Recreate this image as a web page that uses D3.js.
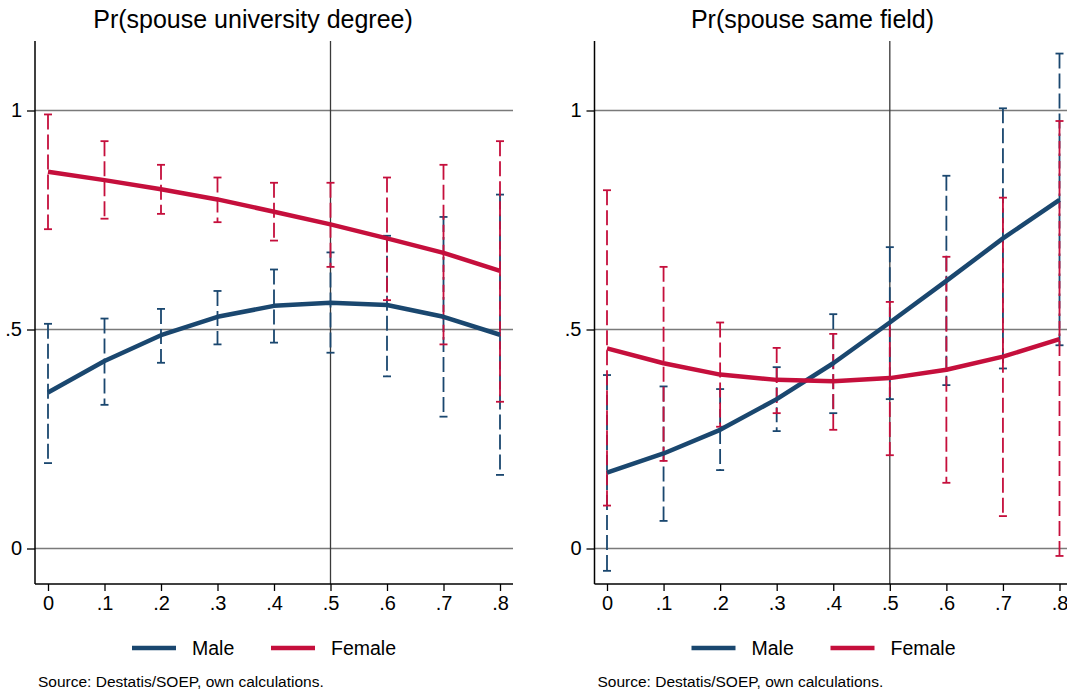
<!DOCTYPE html>
<html>
<head>
<meta charset="utf-8">
<script src="https://cdn.jsdelivr.net/npm/d3@7"></script>
<style>
  body { margin: 0; background: #fff; }
  svg { display: block; font-family: "Liberation Sans", Arial, sans-serif; }
</style>
</head>
<body>
<svg id="chart" width="1067" height="692"></svg>
<script>
// share of ... on x axis
const xVals = [0, 0.1, 0.2, 0.3, 0.4, 0.5, 0.6, 0.7, 0.8];
const xTickLabels = ["0", ".1", ".2", ".3", ".4", ".5", ".6", ".7", ".8"];
const yTickVals = [0, 0.5, 1];
const yTickLabels = ["0", ".5", "1"];
const panelTitles = ["Pr(spouse university degree)", "Pr(spouse same field)"];
const seriesNames = ["Male", "Female"];

// Panel 1: university degree
const degMale   = [0.356, 0.428, 0.487, 0.529, 0.554, 0.561, 0.556, 0.529, 0.488];
const degMaleLo = [0.195, 0.328, 0.424, 0.466, 0.470, 0.447, 0.393, 0.301, 0.168];
const degMaleHi = [0.513, 0.525, 0.547, 0.588, 0.637, 0.676, 0.714, 0.757, 0.808];
const degFem    = [0.860, 0.841, 0.820, 0.797, 0.769, 0.740, 0.708, 0.675, 0.634];
const degFemLo  = [0.729, 0.753, 0.764, 0.745, 0.703, 0.643, 0.567, 0.466, 0.335];
const degFemHi  = [0.991, 0.930, 0.876, 0.847, 0.835, 0.835, 0.847, 0.876, 0.930];

// Panel 2: same field
const fldMale   = [0.173, 0.217, 0.271, 0.341, 0.423, 0.516, 0.611, 0.708, 0.796];
const fldMaleLo = [-0.051, 0.063, 0.179, 0.268, 0.309, 0.341, 0.373, 0.411, 0.464];
const fldMaleHi = [0.396, 0.370, 0.364, 0.414, 0.535, 0.688, 0.851, 1.005, 1.130];
const fldFem    = [0.457, 0.423, 0.397, 0.385, 0.382, 0.389, 0.408, 0.438, 0.478];
const fldFemLo  = [0.098, 0.200, 0.278, 0.309, 0.271, 0.213, 0.150, 0.074, -0.017];
const fldFemHi  = [0.818, 0.643, 0.516, 0.458, 0.490, 0.563, 0.666, 0.801, 0.976];

const colMale = "#1a476f";
const colFem = "#c50f3c";

const panels = [
  { left: 35, right: 513, x0: 48, x8: 500,
    series: [
      { name: "Male", col: colMale, y: degMale, lo: degMaleLo, hi: degMaleHi },
      { name: "Female", col: colFem, y: degFem, lo: degFemLo, hi: degFemHi }
    ] },
  { left: 594.5, right: 1067, x0: 607, x8: 1059.5,
    series: [
      { name: "Male", col: colMale, y: fldMale, lo: fldMaleLo, hi: fldMaleHi },
      { name: "Female", col: colFem, y: fldFem, lo: fldFemLo, hi: fldFemHi }
    ] }
];

const plotTop = 41, plotBottom = 584;
const svg = d3.select("#chart");

const y = d3.scaleLinear().domain([0, 1]).range([548.5, 110.5]);

panels.forEach((p, pi) => {
  const x = d3.scaleLinear().domain([0, 0.8]).range([p.x0, p.x8]);
  const g = svg.append("g");

  // title
  g.append("text")
    .attr("x", p.left + 218)
    .attr("y", 28)
    .attr("text-anchor", "middle")
    .style("font-size", "25px")
    .text(panelTitles[pi]);

  // horizontal grid lines
  g.selectAll(".grid")
    .data(yTickVals)
    .enter().append("line")
    .attr("x1", p.left).attr("x2", p.right)
    .attr("y1", d => y(d)).attr("y2", d => y(d))
    .attr("stroke", "#7a7a7a")
    .attr("stroke-width", 1.5);

  // vertical reference line at .5
  g.append("line")
    .attr("x1", x(0.5)).attr("x2", x(0.5))
    .attr("y1", plotTop).attr("y2", plotBottom)
    .attr("stroke", "#3a3a3a")
    .attr("stroke-width", 1.3);

  // error bars
  p.series.forEach(s => {
    const bars = g.append("g");
    xVals.forEach((xv, i) => {
      bars.append("line")
        .attr("x1", x(xv)).attr("x2", x(xv))
        .attr("y1", y(s.hi[i])).attr("y2", y(s.lo[i]))
        .attr("stroke", s.col)
        .attr("stroke-width", 1.8)
        .attr("stroke-dasharray", "15,5");
      [s.hi[i], s.lo[i]].forEach(v => {
        bars.append("line")
          .attr("x1", x(xv) - 4).attr("x2", x(xv) + 4)
          .attr("y1", y(v)).attr("y2", y(v))
          .attr("stroke", s.col)
          .attr("stroke-width", 1.8);
      });
    });
  });

  // fitted lines
  const line = d3.line()
    .x((d, i) => x(xVals[i]))
    .y(d => y(d));
  p.series.forEach(s => {
    g.append("path")
      .datum(s.y)
      .attr("d", line)
      .attr("fill", "none")
      .attr("stroke", s.col)
      .attr("stroke-width", 4.5)
      .attr("stroke-linejoin", "round");
  });

  // axes
  const yAxis = g.append("g")
    .attr("transform", `translate(${p.left},0)`)
    .call(d3.axisLeft(y).tickValues(yTickVals).tickSize(8).tickPadding(5)
      .tickFormat((d, i) => yTickLabels[i]));
  yAxis.select(".domain").attr("d", `M0,${plotTop}V${plotBottom}`);

  const xAxis = g.append("g")
    .attr("transform", `translate(0,${plotBottom})`)
    .call(d3.axisBottom(x).tickValues(xVals).tickSize(7).tickPadding(5)
      .tickFormat((d, i) => xTickLabels[i]));
  xAxis.select(".domain").attr("d", `M${p.left},0H${p.right}`);

  [yAxis, xAxis].forEach(a => {
    a.select(".domain").attr("stroke", "#000").attr("stroke-width", 1.5);
    a.selectAll(".tick line").attr("stroke", "#000").attr("stroke-width", 1.3);
    a.selectAll(".tick text")
      .attr("fill", "#000")
      .style("font-size", "20px")
      .style("font-family", "'Liberation Sans', Arial, sans-serif");
  });

  // legend
  const lx = p.left + 97;
  const legend = g.append("g");
  p.series.forEach((s, i) => {
    const off = lx + i * 139;
    legend.append("line")
      .attr("x1", off).attr("x2", off + 44)
      .attr("y1", 648).attr("y2", 648)
      .attr("stroke", s.col)
      .attr("stroke-width", 4.5);
    legend.append("text")
      .attr("x", off + 60)
      .attr("y", 655)
      .style("font-size", "19.5px")
      .text(seriesNames[i]);
  });

  // source note
  g.append("text")
    .attr("x", p.left + 3)
    .attr("y", 687)
    .style("font-size", "15.5px")
    .text("Source: Destatis/SOEP, own calculations.");
});
</script>
</body>
</html>
